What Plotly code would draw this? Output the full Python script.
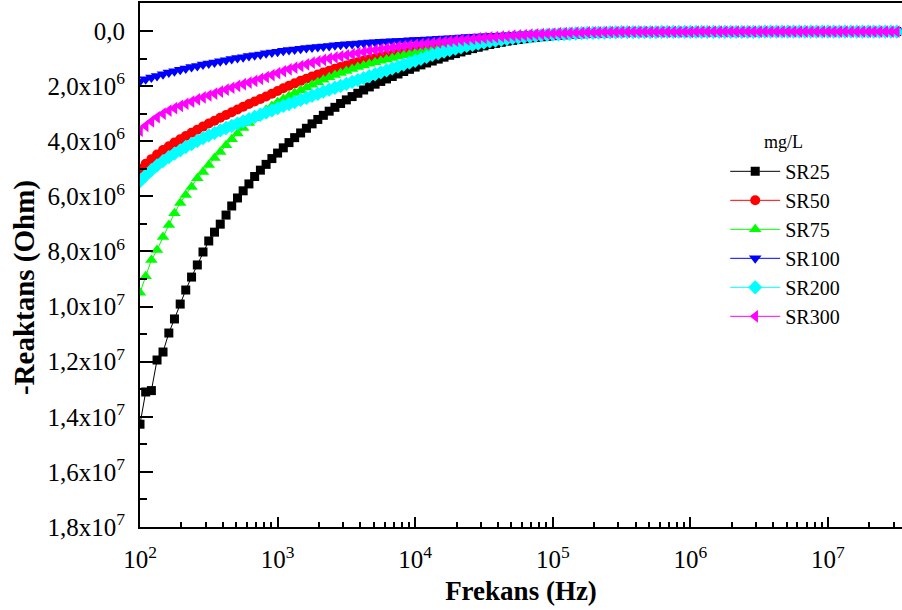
import plotly.graph_objects as go

# Measurement frequencies (Hz), 24 points per decade
frequency_hz = [
    1.00e2, 1.10e2, 1.21e2, 1.33e2, 1.47e2, 1.62e2, 1.78e2, 1.96e2, 2.15e2, 2.37e2, 2.61e2, 2.87e2,
    3.16e2, 3.48e2, 3.83e2, 4.22e2, 4.64e2, 5.11e2, 5.62e2, 6.19e2, 6.81e2, 7.50e2, 8.25e2, 9.09e2,
    1.00e3, 1.10e3, 1.21e3, 1.33e3, 1.47e3, 1.62e3, 1.78e3, 1.96e3, 2.15e3, 2.37e3, 2.61e3, 2.87e3,
    3.16e3, 3.48e3, 3.83e3, 4.22e3, 4.64e3, 5.11e3, 5.62e3, 6.19e3, 6.81e3, 7.50e3, 8.25e3, 9.09e3,
    1.00e4, 1.10e4, 1.21e4, 1.33e4, 1.47e4, 1.62e4, 1.78e4, 1.96e4, 2.15e4, 2.37e4, 2.61e4, 2.87e4,
    3.16e4, 3.48e4, 3.83e4, 4.22e4, 4.64e4, 5.11e4, 5.62e4, 6.19e4, 6.81e4, 7.50e4, 8.25e4, 9.09e4,
    1.00e5, 1.10e5, 1.21e5, 1.33e5, 1.47e5, 1.62e5, 1.78e5, 1.96e5, 2.15e5, 2.37e5, 2.61e5, 2.87e5,
    3.16e5, 3.48e5, 3.83e5, 4.22e5, 4.64e5, 5.11e5, 5.62e5, 6.19e5, 6.81e5, 7.50e5, 8.25e5, 9.09e5,
    1.00e6, 1.10e6, 1.21e6, 1.33e6, 1.47e6, 1.62e6, 1.78e6, 1.96e6, 2.15e6, 2.37e6, 2.61e6, 2.87e6,
    3.16e6, 3.48e6, 3.83e6, 4.22e6, 4.64e6, 5.11e6, 5.62e6, 6.19e6, 6.81e6, 7.50e6, 8.25e6, 9.09e6,
    1.00e7, 1.10e7, 1.21e7, 1.33e7, 1.47e7, 1.62e7, 1.78e7, 1.96e7, 2.15e7, 2.37e7, 2.61e7, 2.87e7,
    3.16e7,
]

# -Reactance in megaohm for each sample (mg/L)
sr25_mohm = [
    14.27, 13.10, 13.05, 11.94, 11.65, 10.96, 10.45, 9.91, 9.40, 8.93, 8.49, 8.02,
    7.62, 7.30, 7.01, 6.68, 6.35, 6.06, 5.80, 5.55, 5.28, 5.05, 4.84, 4.63,
    4.43, 4.24, 4.05, 3.87, 3.70, 3.53, 3.37, 3.21, 3.06, 2.91, 2.77, 2.63,
    2.50, 2.38, 2.26, 2.14, 2.03, 1.93, 1.83, 1.74, 1.65, 1.56, 1.47, 1.39,
    1.31, 1.23, 1.16, 1.09, 1.02, 0.95, 0.88, 0.82, 0.76, 0.70, 0.64, 0.59,
    0.54, 0.49, 0.45, 0.41, 0.37, 0.34, 0.31, 0.28, 0.25, 0.23, 0.21, 0.19,
    0.17, 0.15, 0.14, 0.12, 0.11, 0.10, 0.09, 0.08, 0.07, 0.07, 0.06, 0.05,
    0.05, 0.05, 0.04, 0.04, 0.04, 0.04, 0.04, 0.04, 0.03, 0.03, 0.03, 0.03,
    0.03, 0.03, 0.03, 0.03, 0.03, 0.03, 0.03, 0.03, 0.03, 0.03, 0.03, 0.03,
    0.03, 0.02, 0.02, 0.02, 0.02, 0.02, 0.02, 0.02, 0.02, 0.02, 0.02, 0.02,
    0.02, 0.02, 0.02, 0.02, 0.02, 0.02, 0.02, 0.02, 0.02, 0.02, 0.02, 0.02,
    0.02,
]
sr50_mohm = [
    5.00, 4.82, 4.65, 4.48, 4.32, 4.18, 4.05, 3.93, 3.81, 3.69, 3.58, 3.47,
    3.36, 3.26, 3.15, 3.05, 2.95, 2.85, 2.75, 2.65, 2.56, 2.47, 2.38, 2.28,
    2.18, 2.08, 1.99, 1.90, 1.81, 1.73, 1.65, 1.58, 1.51, 1.44, 1.37, 1.31,
    1.25, 1.19, 1.13, 1.08, 1.03, 0.99, 0.94, 0.90, 0.86, 0.82, 0.78, 0.74,
    0.71, 0.68, 0.65, 0.62, 0.58, 0.55, 0.51, 0.48, 0.45, 0.42, 0.39, 0.36,
    0.33, 0.31, 0.28, 0.26, 0.24, 0.22, 0.20, 0.18, 0.16, 0.15, 0.13, 0.12,
    0.11, 0.10, 0.09, 0.08, 0.07, 0.07, 0.06, 0.06, 0.05, 0.05, 0.04, 0.04,
    0.04, 0.04, 0.04, 0.04, 0.04, 0.04, 0.04, 0.03, 0.03, 0.03, 0.03, 0.03,
    0.03, 0.03, 0.03, 0.03, 0.03, 0.03, 0.03, 0.03, 0.03, 0.03, 0.03, 0.03,
    0.03, 0.02, 0.02, 0.02, 0.02, 0.02, 0.02, 0.02, 0.02, 0.02, 0.02, 0.02,
    0.02, 0.02, 0.02, 0.02, 0.02, 0.02, 0.02, 0.02, 0.02, 0.02, 0.02, 0.02,
    0.02,
]
sr75_mohm = [
    9.50, 8.90, 8.31, 7.95, 7.48, 7.04, 6.61, 6.24, 5.95, 5.66, 5.34, 5.12,
    4.86, 4.61, 4.39, 4.15, 3.93, 3.72, 3.52, 3.34, 3.17, 3.01, 2.86, 2.72,
    2.59, 2.47, 2.36, 2.25, 2.15, 2.05, 1.95, 1.86, 1.77, 1.68, 1.60, 1.52,
    1.45, 1.38, 1.31, 1.25, 1.19, 1.13, 1.08, 1.03, 0.98, 0.93, 0.88, 0.84,
    0.80, 0.76, 0.72, 0.68, 0.64, 0.60, 0.56, 0.52, 0.48, 0.45, 0.42, 0.39,
    0.36, 0.33, 0.30, 0.28, 0.26, 0.24, 0.22, 0.20, 0.18, 0.16, 0.15, 0.13,
    0.12, 0.11, 0.10, 0.09, 0.08, 0.07, 0.07, 0.06, 0.06, 0.05, 0.05, 0.04,
    0.04, 0.04, 0.04, 0.04, 0.04, 0.04, 0.04, 0.03, 0.03, 0.03, 0.03, 0.03,
    0.03, 0.03, 0.03, 0.03, 0.03, 0.03, 0.03, 0.03, 0.03, 0.03, 0.03, 0.03,
    0.03, 0.02, 0.02, 0.02, 0.02, 0.02, 0.02, 0.02, 0.02, 0.02, 0.02, 0.02,
    0.02, 0.02, 0.02, 0.02, 0.02, 0.02, 0.02, 0.02, 0.02, 0.02, 0.02, 0.02,
    0.02,
]
sr100_mohm = [
    1.82, 1.75, 1.69, 1.63, 1.57, 1.51, 1.46, 1.41, 1.36, 1.31, 1.27, 1.22,
    1.18, 1.14, 1.10, 1.06, 1.02, 0.98, 0.95, 0.91, 0.88, 0.85, 0.81, 0.78,
    0.75, 0.72, 0.69, 0.67, 0.64, 0.62, 0.60, 0.58, 0.56, 0.54, 0.52, 0.50,
    0.48, 0.47, 0.45, 0.44, 0.42, 0.41, 0.39, 0.38, 0.37, 0.36, 0.35, 0.34,
    0.33, 0.32, 0.31, 0.30, 0.28, 0.27, 0.26, 0.25, 0.24, 0.22, 0.21, 0.20,
    0.19, 0.18, 0.17, 0.16, 0.15, 0.14, 0.13, 0.12, 0.11, 0.10, 0.09, 0.09,
    0.08, 0.07, 0.07, 0.06, 0.06, 0.05, 0.05, 0.05, 0.04, 0.04, 0.04, 0.03,
    0.03, 0.03, 0.03, 0.03, 0.03, 0.03, 0.03, 0.02, 0.02, 0.02, 0.02, 0.02,
    0.02, 0.02, 0.02, 0.02, 0.02, 0.02, 0.02, 0.02, 0.02, 0.02, 0.02, 0.02,
    0.02, 0.02, 0.02, 0.02, 0.02, 0.02, 0.02, 0.02, 0.02, 0.02, 0.02, 0.02,
    0.01, 0.01, 0.01, 0.01, 0.01, 0.01, 0.01, 0.01, 0.01, 0.01, 0.01, 0.01,
    0.01,
]
sr200_mohm = [
    5.45, 5.24, 5.05, 4.88, 4.72, 4.58, 4.45, 4.33, 4.21, 4.10, 3.99, 3.89,
    3.79, 3.70, 3.61, 3.52, 3.44, 3.36, 3.28, 3.20, 3.12, 3.04, 2.96, 2.88,
    2.80, 2.72, 2.65, 2.58, 2.50, 2.43, 2.35, 2.28, 2.20, 2.13, 2.06, 1.99,
    1.92, 1.85, 1.78, 1.71, 1.64, 1.57, 1.50, 1.43, 1.36, 1.29, 1.22, 1.15,
    1.08, 1.01, 0.94, 0.87, 0.81, 0.75, 0.69, 0.64, 0.59, 0.54, 0.50, 0.46,
    0.42, 0.38, 0.35, 0.32, 0.29, 0.26, 0.24, 0.22, 0.20, 0.18, 0.16, 0.14,
    0.13, 0.12, 0.11, 0.10, 0.09, 0.08, 0.07, 0.07, 0.06, 0.06, 0.05, 0.05,
    0.04, 0.04, 0.04, 0.04, 0.04, 0.04, 0.04, 0.03, 0.03, 0.03, 0.03, 0.03,
    0.03, 0.03, 0.03, 0.03, 0.03, 0.03, 0.03, 0.03, 0.03, 0.03, 0.03, 0.03,
    0.03, 0.02, 0.02, 0.02, 0.02, 0.02, 0.02, 0.02, 0.02, 0.02, 0.02, 0.02,
    0.02, 0.02, 0.02, 0.02, 0.02, 0.02, 0.02, 0.02, 0.02, 0.02, 0.02, 0.02,
    0.02,
]
sr300_mohm = [
    3.62, 3.44, 3.28, 3.13, 3.00, 2.89, 2.80, 2.72, 2.64, 2.56, 2.48, 2.41,
    2.34, 2.27, 2.20, 2.13, 2.06, 1.99, 1.93, 1.87, 1.81, 1.74, 1.67, 1.60,
    1.53, 1.46, 1.39, 1.33, 1.27, 1.21, 1.15, 1.10, 1.05, 1.00, 0.96, 0.92,
    0.88, 0.84, 0.80, 0.76, 0.72, 0.69, 0.66, 0.63, 0.60, 0.57, 0.55, 0.52,
    0.50, 0.48, 0.46, 0.44, 0.41, 0.39, 0.37, 0.35, 0.33, 0.31, 0.29, 0.27,
    0.25, 0.23, 0.22, 0.20, 0.19, 0.17, 0.16, 0.15, 0.13, 0.12, 0.11, 0.10,
    0.09, 0.08, 0.08, 0.07, 0.06, 0.06, 0.05, 0.05, 0.05, 0.04, 0.04, 0.04,
    0.03, 0.03, 0.03, 0.03, 0.03, 0.03, 0.03, 0.03, 0.03, 0.03, 0.03, 0.03,
    0.03, 0.02, 0.02, 0.02, 0.02, 0.02, 0.02, 0.02, 0.02, 0.02, 0.02, 0.02,
    0.02, 0.02, 0.02, 0.02, 0.02, 0.02, 0.02, 0.02, 0.02, 0.02, 0.02, 0.02,
    0.02, 0.02, 0.02, 0.02, 0.02, 0.02, 0.02, 0.02, 0.02, 0.02, 0.02, 0.02,
    0.02,
]

sample_names = ["SR25", "SR50", "SR75", "SR100", "SR200", "SR300"]
sample_values = [sr25_mohm, sr50_mohm, sr75_mohm, sr100_mohm, sr200_mohm, sr300_mohm]
sample_colors = ["#000000", "#FF0000", "#00FF00", "#0000FF", "#00FFFF", "#FF00FF"]
sample_symbols = ["square", "circle", "triangle-up", "triangle-down", "diamond", "triangle-left"]
sample_marker_sizes = [9, 10, 11, 11, 11, 11]

y_tick_values = [0, 2e6, 4e6, 6e6, 8e6, 1e7, 1.2e7, 1.4e7, 1.6e7, 1.8e7]
y_tick_labels = ["0,0", "2,0x10<sup>6</sup>", "4,0x10<sup>6</sup>", "6,0x10<sup>6</sup>",
                 "8,0x10<sup>6</sup>", "1,0x10<sup>7</sup>", "1,2x10<sup>7</sup>",
                 "1,4x10<sup>7</sup>", "1,6x10<sup>7</sup>", "1,8x10<sup>7</sup>"]
x_tick_values = [1e2, 1e3, 1e4, 1e5, 1e6, 1e7]
x_tick_labels = ["10<sup>2</sup>", "10<sup>3</sup>", "10<sup>4</sup>",
                 "10<sup>5</sup>", "10<sup>6</sup>", "10<sup>7</sup>"]

for vals in sample_values:
    assert len(vals) == len(frequency_hz)

SERIF = "Liberation Serif"

fig = go.Figure()
for name, vals, color, symbol, msize in zip(sample_names, sample_values, sample_colors,
                                            sample_symbols, sample_marker_sizes):
    fig.add_trace(go.Scatter(
        x=frequency_hz,
        y=[v * 1e6 for v in vals],
        mode="lines+markers",
        name=name,
        legendgroup=name,
        line=dict(color=color, width=1),
        marker=dict(symbol=symbol, size=msize, color=color, line=dict(width=0)),
    ))

# legend heading
fig.add_annotation(
    text="mg/L", xref="paper", yref="paper", x=0.845, y=0.735,
    xanchor="center", yanchor="middle", showarrow=False,
    font=dict(family=SERIF, size=18, color="black"),
)
# vertical axis title, set left of the tick labels
fig.add_annotation(
    text="<b>-Reaktans (Ohm)</b>", xref="paper", yref="paper", x=0, y=0.456,
    xshift=-116, xanchor="center", yanchor="middle", textangle=-90, showarrow=False,
    font=dict(family=SERIF, size=29, color="black"),
)

fig.update_layout(
    width=902, height=610,
    margin=dict(l=140, r=0, t=3, b=83),
    paper_bgcolor="white", plot_bgcolor="white",
    font=dict(family=SERIF, color="black"),
    showlegend=True,
    legend=dict(
        x=0.768, y=0.716, xanchor="left", yanchor="top",
        bgcolor="rgba(0,0,0,0)", borderwidth=0,
        font=dict(family=SERIF, size=20, color="black"),
        traceorder="grouped", tracegroupgap=0, itemwidth=50,
    ),
    xaxis=dict(
        type="log", range=[2, 7.538],
        tickmode="array", tickvals=x_tick_values, ticktext=x_tick_labels,
        ticks="inside", ticklen=10, tickwidth=2, tickcolor="black",
        minor=dict(ticks="inside", ticklen=5, tickwidth=1.5, tickcolor="black", dtick="D1", showgrid=False),
        showline=True, linewidth=2, linecolor="black", mirror=True,
        showgrid=False, zeroline=False,
        tickfont=dict(family=SERIF, size=25, color="black"),
        ticklabelstandoff=9,
        title=dict(text="<b>Frekans (Hz)</b>", font=dict(family=SERIF, size=27, color="black"), standoff=9),
    ),
    yaxis=dict(
        range=[1.8e7, -1.016e6],
        tickmode="array", tickvals=y_tick_values, ticktext=y_tick_labels,
        ticks="inside", ticklen=13, tickwidth=2, tickcolor="black",
        minor=dict(ticks="inside", ticklen=7, tickwidth=2, tickcolor="black", tick0=0, dtick=1e6, showgrid=False),
        showline=True, linewidth=2, linecolor="black", mirror=False,
        showgrid=False, zeroline=False,
        tickfont=dict(family=SERIF, size=25, color="black"),
        ticklabelstandoff=8,
    ),
)

fig.write_html("out.html")
